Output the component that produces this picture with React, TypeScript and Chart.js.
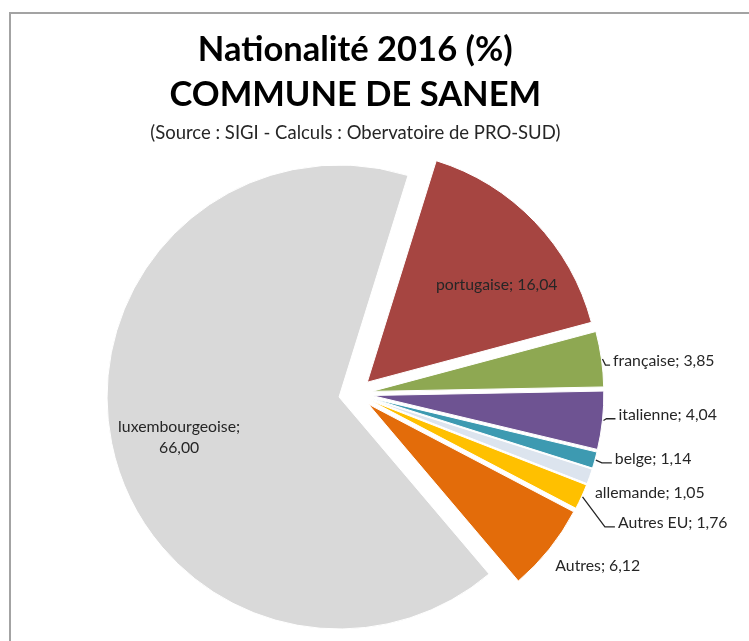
import React, { useEffect, useRef } from 'react';
import { Chart, registerables } from 'chart.js';

Chart.register(...registerables);

// ---- data ----
const CATEGORIES = ['portugaise', 'française', 'italienne', 'belge', 'allemande', 'Autres EU', 'Autres', 'luxembourgeoise'];
const VALUES = [16.04, 3.85, 4.04, 1.14, 1.05, 1.76, 6.12, 66.0];
const COLORS = ['#a64541', '#8ea852', '#6e5392', '#3d9ab1', '#dce4ee', '#ffc000', '#e36c0a', '#d9d9d9'];
const TITLE_LINES = ['Nationalité 2016 (%)', 'COMMUNE DE SANEM'];
const SUBTITLE = '(Source : SIGI - Calculs : Obervatoire de PRO-SUD)';

// ---- label placement (style only) ----
type Place =
  | { kind: 'in'; f: number; da: number; wrap?: boolean }
  | { kind: 'out'; dx: number; dy: number; leader: boolean };
const LABEL_PLACEMENT: Place[] = [
  { kind: 'in', f: 0.698, da: 6.9 },
  { kind: 'out', dx: 11.6, dy: 2.1, leader: true },
  { kind: 'out', dx: 16, dy: -5.7, leader: true },
  { kind: 'out', dx: 20, dy: -1.3, leader: true },
  { kind: 'out', dx: 5.2, dy: 16.3, leader: false },
  { kind: 'out', dx: 36.4, dy: 26, leader: true },
  { kind: 'out', dx: 6, dy: 16.5, leader: false },
  { kind: 'in', f: 0.711, da: -2.7, wrap: true },
];

const EXPLODE = 16.6;
const RADIUS = 232;
const LABEL_FONT = '15.8px Lato';
const LABEL_COLOR = '#262626';

const fmt = (v: number) => v.toFixed(2).replace('.', ',');

const explodePlugin = {
  id: 'explodeSlices',
  afterDatasetsUpdate(chart: any) {
    const meta = chart.getDatasetMeta(0);
    meta.data.forEach((arc: any) => {
      const mid = (arc.startAngle + arc.endAngle) / 2;
      arc.x += Math.cos(mid) * EXPLODE;
      arc.y += Math.sin(mid) * EXPLODE;
    });
  },
};

const labelPlugin = {
  id: 'sliceLabels',
  afterDatasetsDraw(chart: any) {
    const ctx = chart.ctx as CanvasRenderingContext2D;
    const meta = chart.getDatasetMeta(0);
    ctx.save();
    ctx.font = LABEL_FONT;
    ctx.fillStyle = LABEL_COLOR;
    ctx.strokeStyle = LABEL_COLOR;
    ctx.lineWidth = 1.3;
    ctx.textBaseline = 'middle';
    meta.data.forEach((arc: any, i: number) => {
      const p = LABEL_PLACEMENT[i];
      const mid = (arc.startAngle + arc.endAngle) / 2;
      const R = arc.outerRadius;
      const name = CATEGORIES[i];
      const val = fmt(VALUES[i]);
      if (p.kind === 'in') {
        const a = mid + (p.da * Math.PI) / 180;
        const cx = arc.x + Math.cos(a) * R * p.f;
        const cy = arc.y + Math.sin(a) * R * p.f;
        ctx.textAlign = 'center';
        if (p.wrap) {
          ctx.fillText(name + ';', cx, cy - 10.5);
          ctx.fillText(val, cx, cy + 10.5);
        } else {
          ctx.fillText(name + '; ' + val, cx, cy);
        }
      } else {
        const ox = arc.x + Math.cos(mid) * R;
        const oy = arc.y + Math.sin(mid) * R;
        const tx = ox + p.dx;
        const ty = oy + p.dy;
        if (p.leader) {
          const ly = ty + 4;
          const bx = Math.max(ox + 4, tx - 13);
          ctx.beginPath();
          ctx.moveTo(ox + 1, oy);
          ctx.lineTo(bx, ly);
          ctx.lineTo(tx - 3, ly);
          ctx.stroke();
        }
        ctx.textAlign = 'left';
        ctx.fillText(name + '; ' + val, tx, ty);
      }
    });
    ctx.restore();
  },
};

export default function App() {
  const ref = useRef<HTMLCanvasElement | null>(null);
  useEffect(() => {
    if (!ref.current) return;
    const chart = new Chart(ref.current, {
      type: 'pie',
      data: {
        labels: CATEGORIES,
        datasets: [
          {
            data: VALUES,
            backgroundColor: COLORS,
            borderColor: '#ffffff',
            borderWidth: 1,
            radius: RADIUS,
            clip: false,
          } as any,
        ],
      },
      options: {
        responsive: false,
        animation: false,
        devicePixelRatio: 1,
        events: [],
        rotation: 17.3,
        layout: { padding: { top: 27.15, left: 0, right: 38.4, bottom: 0 } },
        plugins: {
          legend: { display: false },
          tooltip: { enabled: false },
          title: {
            display: true,
            text: TITLE_LINES,
            color: '#000000',
            font: { family: 'Lato', size: 34.5, weight: 'bold', lineHeight: 45 / 34.5 },
            padding: { top: 0, bottom: 4.55 },
          },
          subtitle: {
            display: true,
            text: SUBTITLE,
            color: '#262626',
            font: { family: 'Lato', size: 18.5, lineHeight: 1.2 },
            padding: { top: 0, bottom: 2.5 },
          },
        },
      } as any,
      plugins: [explodePlugin, labelPlugin],
    });
    return () => chart.destroy();
  }, []);

  return (
    <div style={{ position: 'fixed', left: 0, top: 0, width: 749, height: 641, overflow: 'hidden', background: '#ffffff' }}>
      <canvas ref={ref} width={749} height={641} style={{ position: 'absolute', left: 0, top: 0, display: 'block' }} />
      <div
        style={{
          position: 'absolute',
          left: 9,
          top: 12,
          width: 800,
          height: 700,
          border: '2px solid #a3a3a3',
          boxSizing: 'border-box',
          pointerEvents: 'none',
        }}
      />
    </div>
  );
}
